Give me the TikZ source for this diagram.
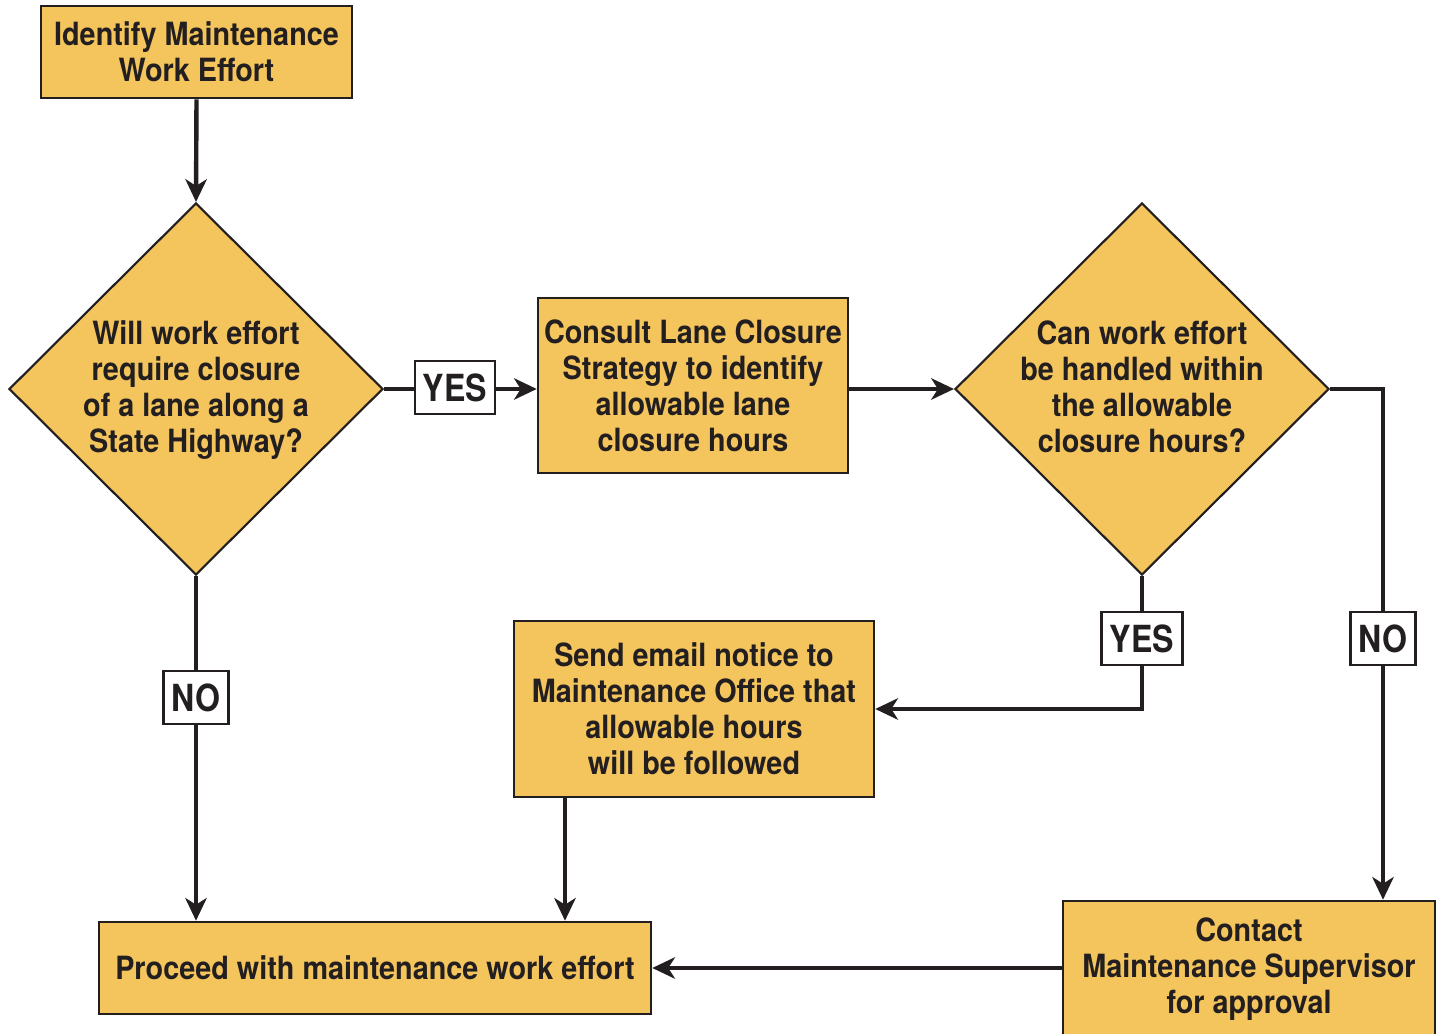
\documentclass[tikz,border=0pt]{standalone}
\usepackage{fontspec}
\setmainfont{TeX Gyre Heros}[FakeStretch=0.9]
\newfontfamily\tagfont{TeX Gyre Heros}[FakeStretch=0.86]
\usetikzlibrary{shapes.geometric,arrows.meta}
\definecolor{boxfill}{HTML}{F3C55C}
\definecolor{ink}{HTML}{231F20}
\tikzset{
  px/.style={x=0.75pt,y=-0.75pt},
  stepbox/.style={draw=ink,line width=1.9pt,fill=boxfill,rectangle,inner sep=0pt,
    text=ink,align=center,font=\fontsize{24}{27}\selectfont\bfseries},
  decision/.style={draw=ink,line width=1.6pt,fill=boxfill,diamond,inner sep=0pt,aspect=1},
  dtext/.style={text=ink,align=center,font=\fontsize{24}{27}\selectfont\bfseries,inner sep=0pt},
  answer/.style={draw=ink,line width=1.6pt,fill=white,rectangle,inner sep=0pt,
    text=ink,font=\tagfont\fontsize{28}{30}\selectfont\bfseries},
  flow/.style={draw=ink,line width=3.3pt,line join=miter},
  arrow/.style={flow,-{Stealth[length=17pt,width=16pt,inset=5pt]}},
}
\begin{document}
\begin{tikzpicture}[px]
\clip (0,0) rectangle (1440,1034);
\fill[white] (0,0) rectangle (1440,1034);

% process boxes
\node[stepbox,minimum width=233.25pt,minimum height=69pt] (start) at (196.5,52)
  {Identify Maintenance\\Work Effort};
\node[stepbox,minimum width=232.5pt,minimum height=131.25pt] (consult) at (693,385.5)
  {Consult Lane Closure\\Strategy to identify\\allowable lane\\closure hours};
\node[stepbox,minimum width=270pt,minimum height=132pt] (email) at (694,709)
  {Send email notice to\\Maintenance Office that\\allowable hours\\will be followed};
\node[stepbox,minimum width=414pt,minimum height=69pt] (proceed) at (375,968)
  {Proceed with maintenance work effort};
\node[stepbox,minimum width=279pt,minimum height=105pt] (contact) at (1249,971)
  {};
\node[dtext] (contacttxt) at (1249,969)
  {Contact\\Maintenance Supervisor\\for approval};

% decisions
\node[decision,minimum width=280.5pt,minimum height=279pt] (q1) at (196,389) {};
\node[dtext] (q1txt) at (196,390)
  {Will work effort\\require closure\\of a lane along a\\State Highway?};
\node[decision,minimum width=280.5pt,minimum height=279pt] (q2) at (1142,389) {};
\node[dtext] (q2txt) at (1142,387)
  {Can work effort\\be handled within\\the allowable\\closure hours?};

% bends of the right-hand connectors
\coordinate (q2r) at (q2.east -| 1383,0);
\coordinate (q2b) at (1142,709);

% connectors
\draw[arrow] (start.south) -- (q1.north);
\draw[arrow] (q1.east) -- (consult.west |- q1.east);
\draw[arrow] (consult.east |- q2.west) -- (q2.west);
\draw[arrow] (q2.east) -- (q2r) -- (q2r |- contact.north);
\draw[arrow] (q2.south) -- (q2b) -- (email.east |- q2b);
\draw[arrow] (q1.south) -- (q1.south |- proceed.north);
\draw[arrow] (email.south -| 565,0) -- (proceed.north -| 565,0);
\draw[arrow] (contact.west |- proceed.east) -- (proceed.east);

% answer tags on the connectors
\node[answer,minimum width=60pt,minimum height=39.75pt] (yes1) at (455,387.5) {YES};
\node[answer,minimum width=48.75pt,minimum height=39.75pt] (no2) at (1383,638.5) {NO};
\node[answer,minimum width=60.75pt,minimum height=39.75pt] (yes2) at (1142,638.5) {YES};
\node[answer,minimum width=48.75pt,minimum height=39.75pt] (no1) at (196,697.5) {NO};
\end{tikzpicture}
\end{document}
